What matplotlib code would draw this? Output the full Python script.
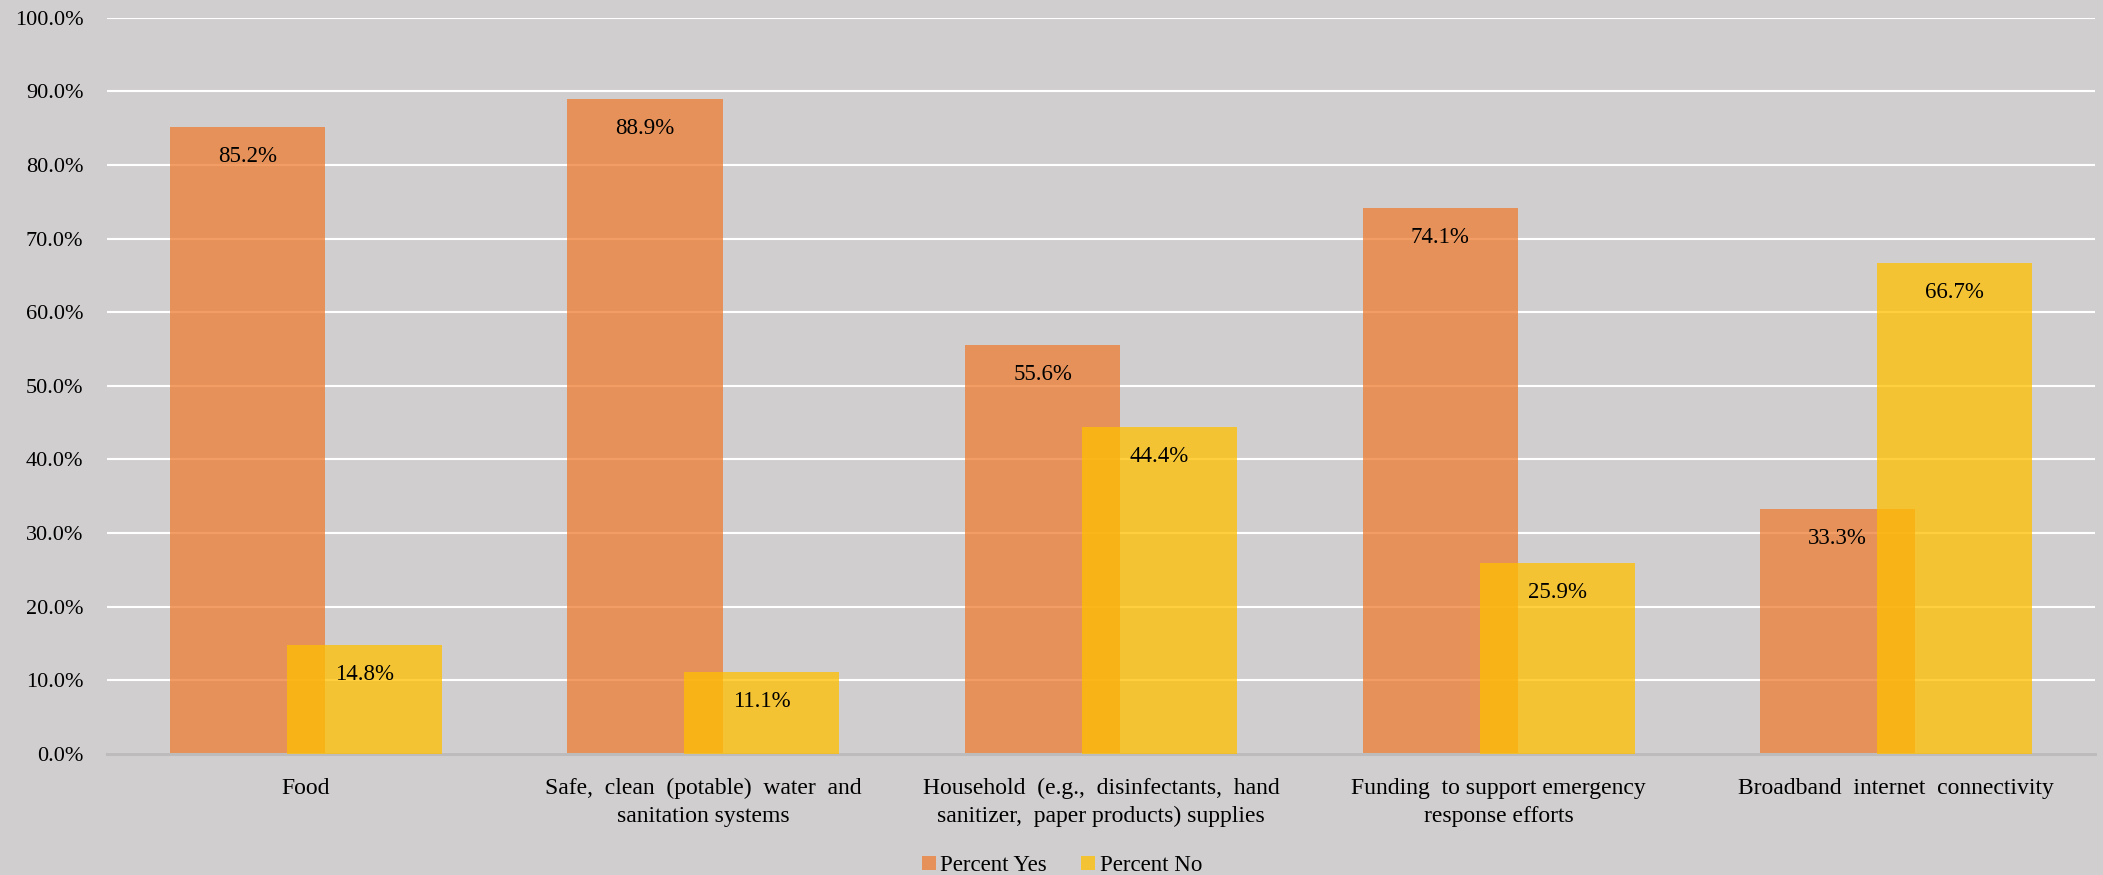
import numpy as np
import matplotlib.pyplot as plt
from matplotlib.ticker import FuncFormatter

categories = [
    "Food",
    "Safe,  clean  (potable)  water  and\nsanitation systems",
    "Household  (e.g.,  disinfectants,  hand\nsanitizer,  paper products) supplies",
    "Funding  to support emergency\nresponse efforts",
    "Broadband  internet  connectivity",
]
percent_yes = [85.2, 88.9, 55.6, 74.1, 33.3]
percent_no = [14.8, 11.1, 44.4, 25.9, 66.7]

BG = "#D0CECF"
ORANGE = "#ED7D31"
YELLOW = "#FFC000"

plt.rcParams["font.family"] = ["Liberation Serif", "DejaVu Serif"]

fig = plt.figure(figsize=(21.03, 8.75), dpi=100, facecolor=BG)
ax = fig.add_axes([0.0509, 0.1383, 0.9453, 0.8415], facecolor=BG)

x = np.arange(len(categories))
width = 0.39
offset = 0.147

bars_yes = ax.bar(x - offset, percent_yes, width, color=ORANGE, alpha=0.75,
                  label="Percent Yes", zorder=2)
bars_no = ax.bar(x + offset, percent_no, width, color=YELLOW, alpha=0.75,
                 label="Percent No", zorder=3)

# data labels sit just inside the top of each bar
for bars, vals in [(bars_yes, percent_yes), (bars_no, percent_no)]:
    for b, v in zip(bars, vals):
        ax.text(b.get_x() + b.get_width() / 2, v - 4.0, f"{v:.1f}%",
                ha="center", va="center", fontsize=16.5, color="black", zorder=5)

ax.set_ylim(0, 100)
ax.set_xlim(-0.5, len(categories) - 0.5)
ax.set_yticks(np.arange(0, 101, 10))
ax.yaxis.set_major_formatter(FuncFormatter(lambda v, _: f"{v:.1f}%"))
ax.set_xticks(x)
ax.set_xticklabels(categories, fontsize=17, linespacing=1.45)
ax.tick_params(axis="y", length=0, pad=17, labelsize=16)
ax.tick_params(axis="x", length=0, pad=17)

ax.grid(axis="y", color="white", linewidth=1.5, zorder=0)
ax.set_axisbelow(True)
for side in ["top", "right", "left"]:
    ax.spines[side].set_visible(False)
ax.spines["bottom"].set_color("#BDBBBC")
ax.spines["bottom"].set_linewidth(2.2)

fig.legend(loc="lower center", bbox_to_anchor=(0.505, -0.025), ncol=2,
           frameon=False, fontsize=16.5, handlelength=0.6, handleheight=0.6,
           handletextpad=0.2, columnspacing=1.5)

fig.savefig("out.png", dpi=100, facecolor=BG)
